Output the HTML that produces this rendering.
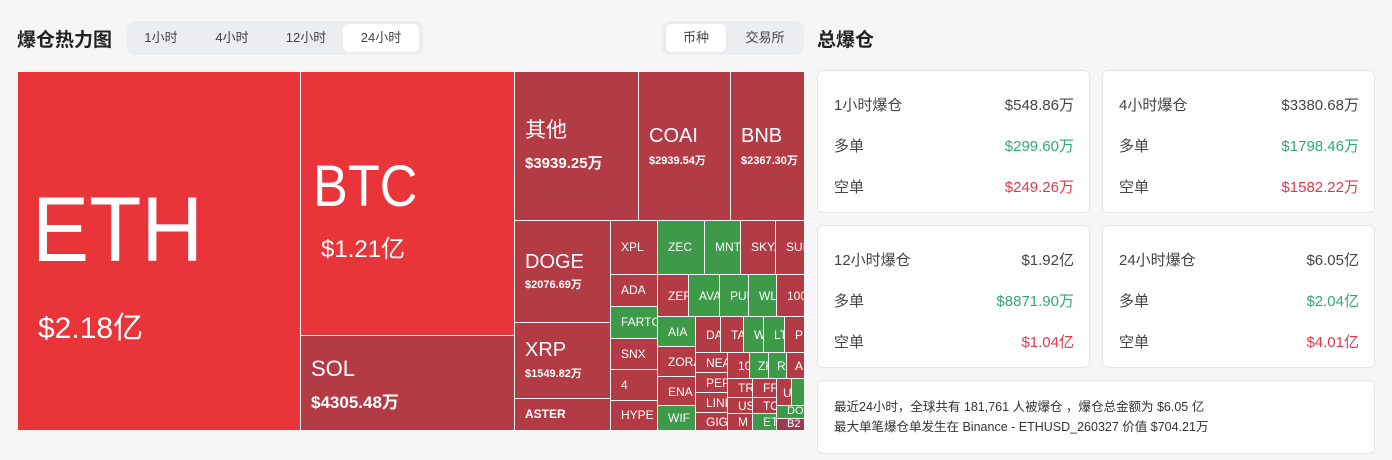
<!DOCTYPE html>
<html><head><meta charset="utf-8"><style>
*{margin:0;padding:0;box-sizing:border-box}
body{width:1392px;height:460px;background:#f6f6f6;font-family:"Liberation Sans","Noto Sans CJK SC",sans-serif;position:relative;overflow:hidden;color:#222}
.a{position:absolute}
.c{position:absolute;color:#fff;overflow:hidden;white-space:nowrap;font-size:12px;line-height:1}
.r{background:#b33b46}.b{background:#e93439}.g{background:#3d9a48}
.seg{position:absolute;background:#ebedf0;border-radius:8px;height:34px;top:21px}
.seg span{position:absolute;top:3px;height:28px;line-height:28px;font-size:13px;text-align:center;color:#444;border-radius:6px}
.seg .on{background:#fff}
.card{position:absolute;background:#fff;border:1px solid #e6e6e6;border-radius:6px}
.row{position:absolute;left:16px;right:15px;font-size:15px;color:#444}
.row b{font-weight:normal;position:absolute;right:0;top:0}
.gr{color:#2fa878}.rd{color:#e0394a}
</style></head><body>
<div class="a" style="left:17px;top:25px;font-size:19px;font-weight:bold">爆仓热力图</div>
<div class="seg" style="left:127px;width:296px">
<span style="left:4px;width:60px">1小时</span><span style="left:74px;width:62px">4小时</span><span style="left:142px;width:74px">12小时</span><span class="on" style="left:216px;width:76px">24小时</span></div>
<div class="seg" style="left:662px;width:142px">
<span class="on" style="left:4px;width:60px">币种</span><span style="left:68px;width:70px">交易所</span></div>
<div class="a" style="left:817px;top:25px;font-size:19px;font-weight:bold">总爆仓</div>

<div class="c b" style="left:18px;top:72px;width:282px;height:358px"><div class="a" style="left:14px;top:112px;font-size:92px;transform:scaleX(0.93);transform-origin:left">ETH</div><div class="a" style="left:20px;top:242px;font-size:30px">$2.18亿</div></div>
<div class="c b" style="left:301px;top:72px;width:213px;height:263px"><div class="a" style="left:12px;top:86px;font-size:58px;transform:scaleX(0.9);transform-origin:left">BTC</div><div class="a" style="left:20px;top:166px;font-size:24px">$1.21亿</div></div>
<div class="c r" style="left:301px;top:336px;width:213px;height:94px"><div class="a" style="left:10px;top:22px;font-size:22px">SOL</div><div class="a" style="left:10px;top:58px;font-size:17px;font-weight:bold">$4305.48万</div></div>
<div class="c r" style="left:515px;top:72px;width:123px;height:148px"><div class="a" style="left:10px;top:48px;font-size:21px">其他</div><div class="a" style="left:10px;top:84px;font-size:15px;font-weight:bold">$3939.25万</div></div>
<div class="c r" style="left:639px;top:72px;width:91px;height:148px"><div class="a" style="left:10px;top:54px;font-size:20px">COAI</div><div class="a" style="left:10px;top:84px;font-size:11px;font-weight:bold">$2939.54万</div></div>
<div class="c r" style="left:731px;top:72px;width:73px;height:148px"><div class="a" style="left:10px;top:54px;font-size:20px">BNB</div><div class="a" style="left:10px;top:84px;font-size:11px;font-weight:bold">$2367.30万</div></div>
<div class="c r" style="left:515px;top:221px;width:95px;height:101px"><div class="a" style="left:10px;top:31px;font-size:20px">DOGE</div><div class="a" style="left:10px;top:59px;font-size:11px;font-weight:bold">$2076.69万</div></div>
<div class="c r" style="left:515px;top:323px;width:95px;height:75px"><div class="a" style="left:10px;top:17px;font-size:20px">XRP</div><div class="a" style="left:10px;top:46px;font-size:11px;font-weight:bold">$1549.82万</div></div>
<div class="c r" style="left:515px;top:399px;width:95px;height:31px"><div class="a" style="left:10px;top:9px;font-weight:bold">ASTER</div></div>

<div class="c r" style="left:611px;top:221px;width:46px;height:53px;padding:20px 0 0 10px">XPL</div>
<div class="c r" style="left:611px;top:275px;width:46px;height:31px;padding:9px 0 0 10px">ADA</div>
<div class="c g" style="left:611px;top:307px;width:46px;height:31px;padding:9px 0 0 10px">FARTCOIN</div>
<div class="c r" style="left:611px;top:339px;width:46px;height:30px;padding:9px 0 0 10px">SNX</div>
<div class="c r" style="left:611px;top:370px;width:46px;height:30px;padding:9px 0 0 10px">4</div>
<div class="c r" style="left:611px;top:401px;width:46px;height:29px;padding:8px 0 0 10px">HYPE</div>

<div class="c g" style="left:658px;top:221px;width:46px;height:53px;padding:20px 0 0 10px">ZEC</div>
<div class="c g" style="left:705px;top:221px;width:35px;height:53px;padding:20px 0 0 10px">MNT</div>
<div class="c r" style="left:741px;top:221px;width:34px;height:53px;padding:20px 0 0 10px">SKYAI</div>
<div class="c r" style="left:776px;top:221px;width:28px;height:53px;padding:20px 0 0 10px">SUI</div>
<div class="c r" style="left:658px;top:275px;width:30px;height:41px;padding:15px 0 0 10px">ZEREBRO</div>
<div class="c g" style="left:689px;top:275px;width:30px;height:41px;padding:15px 0 0 10px">AVAX</div>
<div class="c g" style="left:720px;top:275px;width:28px;height:41px;padding:15px 0 0 10px">PUMP</div>
<div class="c g" style="left:749px;top:275px;width:27px;height:41px;padding:15px 0 0 10px">WLFI</div>
<div class="c r" style="left:777px;top:275px;width:27px;height:41px;padding:15px 0 0 10px">1000</div>
<div class="c g" style="left:658px;top:317px;width:37px;height:29px;padding:9px 0 0 10px">AIA</div>
<div class="c r" style="left:658px;top:347px;width:37px;height:29px;padding:9px 0 0 10px">ZORA</div>
<div class="c r" style="left:658px;top:377px;width:37px;height:28px;padding:9px 0 0 10px">ENA</div>
<div class="c g" style="left:658px;top:406px;width:37px;height:24px;padding:6px 0 0 10px">WIF</div>
<div class="c r" style="left:696px;top:317px;width:24px;height:35px;padding:12px 0 0 10px">DASH</div>
<div class="c r" style="left:721px;top:317px;width:22px;height:35px;padding:12px 0 0 10px">TAO</div>
<div class="c g" style="left:744px;top:317px;width:19px;height:35px;padding:12px 0 0 10px">W</div>
<div class="c g" style="left:764px;top:317px;width:20px;height:35px;padding:12px 0 0 10px">LTC</div>
<div class="c r" style="left:785px;top:317px;width:19px;height:35px;padding:12px 0 0 10px">PI</div>
<div class="c r" style="left:696px;top:353px;width:31px;height:19px;padding:4px 0 0 10px">NEAR</div>
<div class="c r" style="left:696px;top:373px;width:31px;height:19px;padding:4px 0 0 10px">PEPE</div>
<div class="c r" style="left:696px;top:393px;width:31px;height:19px;padding:4px 0 0 10px">LINK</div>
<div class="c r" style="left:696px;top:413px;width:31px;height:17px;padding:3px 0 0 10px">GIGGLE</div>
<div class="c r" style="left:728px;top:353px;width:21px;height:25px;padding:7px 0 0 10px">10</div>
<div class="c g" style="left:750px;top:353px;width:18px;height:25px;padding:7px 0 0 8px">ZK</div>
<div class="c g" style="left:769px;top:353px;width:17px;height:25px;padding:7px 0 0 8px">R</div>
<div class="c r" style="left:787px;top:353px;width:17px;height:25px;padding:7px 0 0 8px">A</div>
<div class="c r" style="left:728px;top:379px;width:24px;height:18px;padding:3px 0 0 10px">TRX</div>
<div class="c r" style="left:728px;top:398px;width:24px;height:15px;padding:2px 0 0 10px">US</div>
<div class="c r" style="left:728px;top:414px;width:24px;height:16px;padding:2px 0 0 10px">M</div>
<div class="c r" style="left:753px;top:379px;width:23px;height:18px;padding:3px 0 0 10px">FF</div>
<div class="c r" style="left:753px;top:398px;width:23px;height:15px;padding:2px 0 0 10px">TON</div>
<div class="c g" style="left:753px;top:414px;width:23px;height:16px;padding:2px 0 0 10px">ETC</div>
<div class="c r" style="left:777px;top:379px;width:14px;height:26px;padding:8px 0 0 6px">U</div>
<div class="c g" style="left:792px;top:379px;width:12px;height:26px"></div>
<div class="c g" style="left:777px;top:406px;width:27px;height:12px;padding:0 0 0 10px;font-size:11px">DOGS</div>
<div class="c" style="left:777px;top:419px;width:27px;height:11px;background:#9a3a55;padding:0 0 0 10px;font-size:11px">B2</div>

<div class="card" style="left:817px;top:70px;width:273px;height:143px">
<div class="row" style="top:23px">1小时爆仓<b>$548.86万</b></div>
<div class="row" style="top:64px">多单<b class="gr">$299.60万</b></div>
<div class="row" style="top:105px">空单<b class="rd">$249.26万</b></div></div>
<div class="card" style="left:1102px;top:70px;width:273px;height:143px">
<div class="row" style="top:23px">4小时爆仓<b>$3380.68万</b></div>
<div class="row" style="top:64px">多单<b class="gr">$1798.46万</b></div>
<div class="row" style="top:105px">空单<b class="rd">$1582.22万</b></div></div>
<div class="card" style="left:817px;top:225px;width:273px;height:143px">
<div class="row" style="top:23px">12小时爆仓<b>$1.92亿</b></div>
<div class="row" style="top:64px">多单<b class="gr">$8871.90万</b></div>
<div class="row" style="top:105px">空单<b class="rd">$1.04亿</b></div></div>
<div class="card" style="left:1102px;top:225px;width:273px;height:143px">
<div class="row" style="top:23px">24小时爆仓<b>$6.05亿</b></div>
<div class="row" style="top:64px">多单<b class="gr">$2.04亿</b></div>
<div class="row" style="top:105px">空单<b class="rd">$4.01亿</b></div></div>
<div class="card" style="left:817px;top:380px;width:558px;height:74px;font-size:12.5px;color:#333;line-height:20px;padding:16px 0 0 16px">
最近24小时，全球共有 181,761 人被爆仓 ，爆仓总金额为 $6.05 亿<br>最大单笔爆仓单发生在 Binance - ETHUSD_260327 价值 $704.21万</div>
</body></html>
